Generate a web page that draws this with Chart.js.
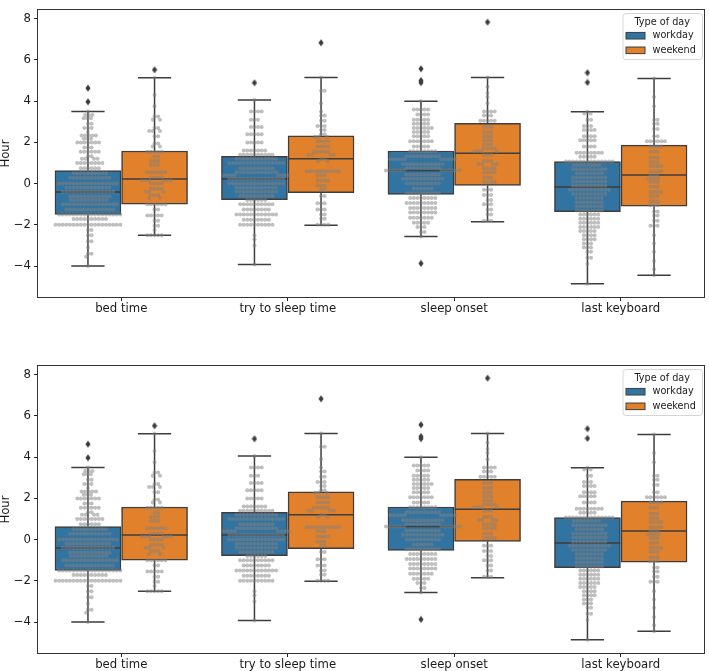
<!DOCTYPE html>
<html>
<head>
<meta charset="utf-8">
<script src="https://cdn.jsdelivr.net/npm/chart.js@4.4.0/dist/chart.umd.min.js"></script>
<style>
  html, body { margin: 0; padding: 0; background: #fff; overflow: hidden; }
  .panel { position: absolute; left: 0; width: 709px; height: 320px; }
  #top_panel { top: 0; }
  #bottom_panel { top: 356px; }
</style>
</head>
<body>
<div class="panel" id="top_panel"><canvas id="top_chart"></canvas></div>
<div class="panel" id="bottom_panel"><canvas id="bottom_chart"></canvas></div>
<script>
const categories = ["bed time", "try to sleep time", "sleep onset", "last keyboard"]
const hues = ["workday", "weekend"]
const yTicks = [-4, -2, 0, 2, 4, 6, 8]

// box stats, one entry per category
const workLo = [-4.0, -3.92, -2.57, -4.86]
const workQ1 = [-1.5, -0.78, -0.52, -1.36]
const workMed = [-0.41, 0.22, 0.63, -0.16]
const workQ3 = [0.63, 1.32, 1.58, 1.07]
const workHi = [3.5, 4.06, 4.0, 3.48]
const workOut = [[4.63, 3.97], [4.89], [5.57, 5.0, 4.9, -3.87], [5.38, 4.91]]

const endLo = [-2.5, -2.02, -1.85, -4.44]
const endQ1 = [-1.0, -0.44, -0.09, -1.1]
const endMed = [0.22, 1.21, 1.47, 0.42]
const endQ3 = [1.58, 2.32, 2.92, 1.87]
const endHi = [5.13, 5.15, 5.15, 5.1]
const endOut = [[5.52], [6.83], [7.83], []]

// swarm points as [value, how many]
const bedWork = [[3.5,1],[3.33,3],[3.17,3],[2.9,2],[2.7,3],[2.5,1],[2.33,5],[2.17,3],[2.0,7],[1.75,3],[1.55,6],[1.33,2],[1.2,4],[1.0,8],[0.75,6],[0.5,10],[0.28,12],[0.0,17],[-0.2,13],[-0.4,15],[-0.63,12],[-0.8,11],[-1.0,16],[-1.25,14],[-1.5,18],[-1.72,10],[-2.0,19],[-2.25,2],[-2.5,2],[-2.8,2],[-3.1,1],[-3.4,2],[-3.55,1],[-4.0,1]]
const bedEnd = [[5.13,1],[4.3,1],[3.75,1],[3.25,2],[3.1,2],[2.7,2],[2.55,3],[2.3,2],[1.95,2],[1.8,2],[1.55,5],[1.3,2],[1.1,3],[0.9,3],[0.55,6],[0.3,4],[0.15,6],[0.0,4],[-0.25,4],[-0.4,3],[-0.55,3],[-0.7,2],[-1.0,6],[-1.25,2],[-1.55,5],[-1.8,2],[-2.05,2],[-2.25,1],[-2.5,5]]
const tryWork = [[4.06,1],[3.5,4],[3.1,3],[2.75,4],[2.4,5],[2.0,5],[1.6,7],[1.4,10],[1.2,12],[1.0,16],[0.75,10],[0.55,12],[0.4,8],[0.22,16],[0.0,16],[-0.2,12],[-0.4,12],[-0.6,10],[-0.8,6],[-1.0,10],[-1.25,8],[-1.5,12],[-1.75,8],[-2.0,10],[-2.5,1],[-2.7,1],[-3.0,1],[-3.92,1]]
const tryEnd = [[5.15,1],[4.5,2],[3.9,1],[3.5,1],[3.3,2],[3.05,2],[2.8,3],[2.6,2],[2.4,2],[2.27,3],[2.05,4],[1.8,4],[1.55,5],[1.4,4],[1.2,2],[1.1,2],[0.6,10],[0.4,3],[0.15,4],[-0.1,3],[-0.3,2],[-0.6,2],[-0.95,3],[-1.25,3],[-1.5,2],[-1.7,2],[-2.0,4]]
const onsetWork = [[4.0,1],[3.6,5],[3.35,4],[3.1,5],[2.9,5],[2.7,6],[2.5,5],[2.3,5],[2.05,7],[1.8,5],[1.57,8],[1.33,10],[1.18,10],[0.94,12],[0.75,10],[0.63,12],[0.44,10],[0.24,12],[0.0,10],[-0.24,6],[-0.47,10],[-0.7,8],[-0.94,9],[-1.18,8],[-1.4,8],[-1.65,7],[-1.9,5],[-2.1,3],[-2.35,2],[-2.57,1]]
const onsetEnd = [[5.15,1],[4.7,1],[4.4,1],[4.2,1],[3.9,1],[3.5,4],[3.3,3],[3.05,5],[2.75,3],[2.5,3],[2.3,3],[2.1,3],[1.9,3],[1.7,4],[1.57,4],[1.4,3],[1.1,3],[0.95,4],[0.75,4],[0.55,4],[0.3,3],[0.08,4],[-0.3,3],[-0.55,3],[-0.8,2],[-1.0,3],[-1.25,2],[-1.5,2],[-1.8,3]]
const keyWork = [[3.48,1],[3.4,2],[3.1,2],[2.8,3],[2.6,4],[2.3,4],[2.1,5],[1.8,4],[1.5,8],[1.3,5],[1.07,14],[0.9,8],[0.7,10],[0.5,8],[0.3,10],[0.1,10],[-0.1,10],[-0.3,12],[-0.5,10],[-0.7,8],[-0.9,8],[-1.1,8],[-1.3,8],[-1.5,6],[-1.7,6],[-1.9,6],[-2.1,6],[-2.3,5],[-2.5,4],[-2.7,4],[-2.9,3],[-3.1,3],[-3.3,2],[-3.6,2],[-3.9,1],[-4.86,1]]
const keyEnd = [[5.1,1],[4.2,1],[3.75,1],[3.1,2],[2.9,2],[2.65,2],[2.3,2],[2.05,6],[1.8,4],[1.55,3],[1.25,3],[1.05,3],[0.85,4],[0.6,4],[0.42,3],[0.25,4],[0.08,3],[-0.15,3],[-0.4,4],[-0.6,3],[-0.85,3],[-1.05,3],[-1.35,2],[-1.55,2],[-1.8,2],[-2.05,3],[-2.5,1],[-2.9,1],[-3.3,1],[-3.75,1],[-4.15,1],[-4.44,1]]

const workDots = [bedWork, tryWork, onsetWork, keyWork]
const endDots = [bedEnd, tryEnd, onsetEnd, keyEnd]

const workColor = "#3274a1"
const endColor = "#e1812c"
const lineColor = "#3d3d3d"
const dotColor = "rgba(128,128,128,0.5)"
const textColor = "#1a1a1a"
const font = "DejaVu Sans"

const shift = 0.2      // hue offset from category centre
const boxHalf = 0.197
const capHalf = 0.1
const gap = {x: null, y: null}

function expand(pairs) {
    let out = []
    pairs.forEach(function(p){
        for (let k = 0; k < p[1]; k++) out.push(p[0])
    })
    return out
}

function boxLines(lo, q1, med, q3, hi, off) {
    let pts = []
    for (let i = 0; i < categories.length; i++) {
        let c = i + off
        pts.push({x: c, y: q3[i]}, {x: c, y: hi[i]}, gap)
        pts.push({x: c - capHalf, y: hi[i]}, {x: c + capHalf, y: hi[i]}, gap)
        pts.push({x: c, y: q1[i]}, {x: c, y: lo[i]}, gap)
        pts.push({x: c - capHalf, y: lo[i]}, {x: c + capHalf, y: lo[i]}, gap)
        pts.push({x: c - boxHalf, y: med[i]}, {x: c + boxHalf, y: med[i]}, gap)
    }
    return pts
}

function diamond() {
    let c = document.createElement("canvas")
    c.width = 6
    c.height = 8
    let g = c.getContext("2d")
    g.fillStyle = lineColor
    g.beginPath()
    g.moveTo(3, 0.5); g.lineTo(5.6, 4); g.lineTo(3, 7.5); g.lineTo(0.4, 4)
    g.closePath()
    g.fill()
    return c
}

// beeswarm: each point goes to the free spot closest to the centre
function swarm(values, ys, unit, centre, d) {
    let pts = values.map(v => ({v: v, py: ys.getPixelForValue(v), px: 0}))
    pts.sort((a, b) => a.py - b.py)
    let placed = []
    pts.forEach(function(p){
        let near = placed.filter(q => Math.abs(q.py - p.py) < d)
        let cands = [0]
        near.forEach(function(q){
            let dx = Math.sqrt(d * d - (q.py - p.py) * (q.py - p.py))
            cands.push(q.px + dx, q.px - dx)
        })
        cands.sort((a, b) => Math.abs(a) - Math.abs(b))
        for (let c of cands) {
            if (near.every(q => (q.px - c) * (q.px - c) + (q.py - p.py) * (q.py - p.py) >= d * d - 0.01)) {
                p.px = c
                break
            }
        }
        placed.push(p)
    })
    return placed.map(p => ({x: centre + p.px / unit, y: p.v}))
}

const framePlugin = {
    id: "frame",
    afterDatasetsDraw(chart) {
        let a = chart.chartArea, ctx = chart.ctx
        ctx.save()
        ctx.strokeStyle = "#333"
        ctx.lineWidth = 1
        ctx.strokeRect(a.left - 0.5, a.top - 0.5, a.right - a.left + 1, a.bottom - a.top + 1)
        ctx.restore()
    },
    afterDraw(chart) {
        let a = chart.chartArea, ctx = chart.ctx
        let w = 79.5, h = 46
        let left = a.right - 81.5, top = a.top + 3
        ctx.save()
        ctx.beginPath()
        ctx.roundRect(left + 0.5, top + 0.5, w, h, 3)
        ctx.fillStyle = "rgba(255,255,255,0.8)"
        ctx.fill()
        ctx.strokeStyle = "#d6d6d6"
        ctx.lineWidth = 1
        ctx.stroke()
        ctx.fillStyle = textColor
        ctx.font = "9.7px '" + font + "'"
        ctx.textAlign = "center"
        ctx.textBaseline = "middle"
        ctx.fillText("Type of day", left + w / 2, top + 9.5)
        let rows = [[hues[0], workColor, 22.7], [hues[1], endColor, 37.3]]
        rows.forEach(function(r){
            ctx.fillStyle = r[1]
            ctx.fillRect(left + 3.5, top + r[2] - 3.3, 19, 6.6)
            ctx.strokeStyle = lineColor
            ctx.strokeRect(left + 3.5, top + r[2] - 3.3, 19, 6.6)
            ctx.fillStyle = textColor
            ctx.textAlign = "left"
            ctx.fillText(r[0], left + 30, top + r[2])
        })
        ctx.restore()
    }
}

function makeChart(id) {
    let boxes = []
    let boxColors = []
    for (let i = 0; i < categories.length; i++) {
        boxes.push({x: i - shift, y: [workQ1[i], workQ3[i]]})
        boxColors.push(workColor)
        boxes.push({x: i + shift, y: [endQ1[i], endQ3[i]]})
        boxColors.push(endColor)
    }
    let lines = boxLines(workLo, workQ1, workMed, workQ3, workHi, -shift)
        .concat(boxLines(endLo, endQ1, endMed, endQ3, endHi, shift))
    let outliers = []
    for (let i = 0; i < categories.length; i++) {
        workOut[i].forEach(v => outliers.push({x: i - shift, y: v}))
        endOut[i].forEach(v => outliers.push({x: i + shift, y: v}))
    }

    let chart = new Chart(id, {
        type: "scatter",
        data: {
            datasets: [
                {type: "scatter", label: "dots", data: [], backgroundColor: dotColor, pointRadius: 2, pointHoverRadius: 2, borderWidth: 0, order: 0},
                {type: "scatter", label: "outliers", data: outliers, pointStyle: diamond(), pointRadius: 3, order: 1},
                {type: "scatter", label: "lines", data: lines, showLine: true, spanGaps: false, borderColor: lineColor, borderWidth: 1.5, pointRadius: 0, pointHoverRadius: 0, order: 2},
                {type: "bar", label: "boxes", data: boxes, backgroundColor: boxColors, borderColor: lineColor, borderWidth: 1.5, borderSkipped: false, barThickness: 66, order: 3}
            ]
        },
        options: {
            responsive: true,
            maintainAspectRatio: false,
            animation: false,
            events: [],
            devicePixelRatio: 1,
            layout: {padding: {top: 1, right: 1, left: 0, bottom: 0}},
            plugins: {legend: {display: false}, tooltip: {enabled: false}},
            scales: {
                x: {
                    type: "linear",
                    min: -0.5,
                    max: 3.5,
                    offset: false,
                    afterBuildTicks: function(s){ s.ticks = categories.map((c, i) => ({value: i})) },
                    afterFit: function(s){ s.height = 23 },
                    ticks: {
                        callback: v => categories[v],
                        autoSkip: false,
                        maxRotation: 0,
                        padding: 1,
                        color: textColor,
                        font: {family: font, size: 11.7}
                    },
                    grid: {drawOnChartArea: false, drawTicks: true, tickLength: 4, tickColor: "#222", offset: false},
                    border: {display: false}
                },
                y: {
                    type: "linear",
                    min: -5.5,
                    max: 8.42,
                    afterBuildTicks: function(s){ s.ticks = yTicks.map(v => ({value: v})) },
                    afterFit: function(s){ s.width = 38 },
                    ticks: {
                        callback: v => String(v).replace("-", "\u2212"),
                        padding: 3,
                        color: textColor,
                        font: {family: font, size: 11.7}
                    },
                    title: {
                        display: true,
                        text: "Hour",
                        padding: 0,
                        color: textColor,
                        font: {family: font, size: 11.7, lineHeight: 1}
                    },
                    grid: {drawOnChartArea: false, drawTicks: true, tickLength: 4, tickColor: "#222"},
                    border: {display: false}
                }
            }
        },
        plugins: [framePlugin]
    })

    // lay the swarm out in pixel space, then hand it back to the chart
    let xs = chart.scales.x, ys = chart.scales.y
    let unit = xs.getPixelForValue(1) - xs.getPixelForValue(0)
    let dots = []
    for (let i = 0; i < categories.length; i++) {
        dots = dots.concat(swarm(expand(workDots[i]), ys, unit, i - shift, 3.6))
        dots = dots.concat(swarm(expand(endDots[i]), ys, unit, i + shift, 3.6))
    }
    chart.data.datasets[0].data = dots
    chart.update("none")
    return chart
}

document.addEventListener("DOMContentLoaded", function(){
    makeChart("top_chart")
    makeChart("bottom_chart")
})
</script>
</body>
</html>
